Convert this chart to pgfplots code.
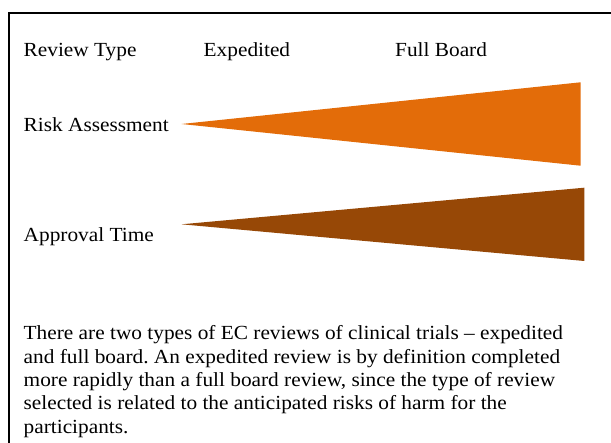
\documentclass[border=0pt]{standalone}
\usepackage{pgfplots}
\pgfplotsset{compat=1.18}
\usepackage{fontspec}
\setmainfont{Liberation Serif}[FakeStretch=1.066]
\frenchspacing
\definecolor{riskorange}{HTML}{E36C09}
\definecolor{timebrown}{HTML}{974806}
\begin{document}
\begin{tikzpicture}
\begin{axis}[
  width=611pt, height=443pt, scale only axis,
  xmin=0, xmax=611, ymin=0, ymax=443, y dir=reverse,
  hide axis, clip=false,
]
% frame (left and top edges; right/bottom lie outside the picture)
\draw[line width=1.6pt, black, line cap=butt] (axis cs:9,443) -- (axis cs:9,13) -- (axis cs:611,13);
% wedges
\addplot[fill=riskorange, draw=none] coordinates {(181.5,124) (580.5,82.3) (580.5,165.7)} -- cycle;
\addplot[fill=timebrown, draw=none] coordinates {(181.5,224.3) (584.3,187.7) (584.3,261)} -- cycle;
% labels
\tikzset{lbl/.style={anchor=base west, inner sep=0pt, font=\fontsize{20}{24}\selectfont}}
\node[lbl] at (axis cs:23.5,56.7) {Review Type};
\node[lbl] at (axis cs:203.5,56.7) {Expedited};
\node[lbl] at (axis cs:395,56.7) {Full Board};
\node[lbl] at (axis cs:23.5,131.3) {Risk Assessment};
\node[lbl] at (axis cs:23.5,241.3) {Approval Time};
\node[lbl] at (axis cs:23.5,340) {There are two types of EC reviews of clinical trials -- expedited};
\node[lbl] at (axis cs:23.5,363.3) {and full board. An expedited review is by definition completed};
\node[lbl] at (axis cs:23.5,386.7) {more rapidly than a full board review, since the type of review};
\node[lbl] at (axis cs:23.5,410) {selected is related to the anticipated risks of harm for the};
\node[lbl] at (axis cs:23.5,433.3) {participants.};
\coordinate (bbA) at (rel axis cs:0,0);
\coordinate (bbB) at (rel axis cs:1,1);
\end{axis}
\pgfresetboundingbox
\path[use as bounding box] (bbA) rectangle (bbB);
\end{tikzpicture}
\end{document}
